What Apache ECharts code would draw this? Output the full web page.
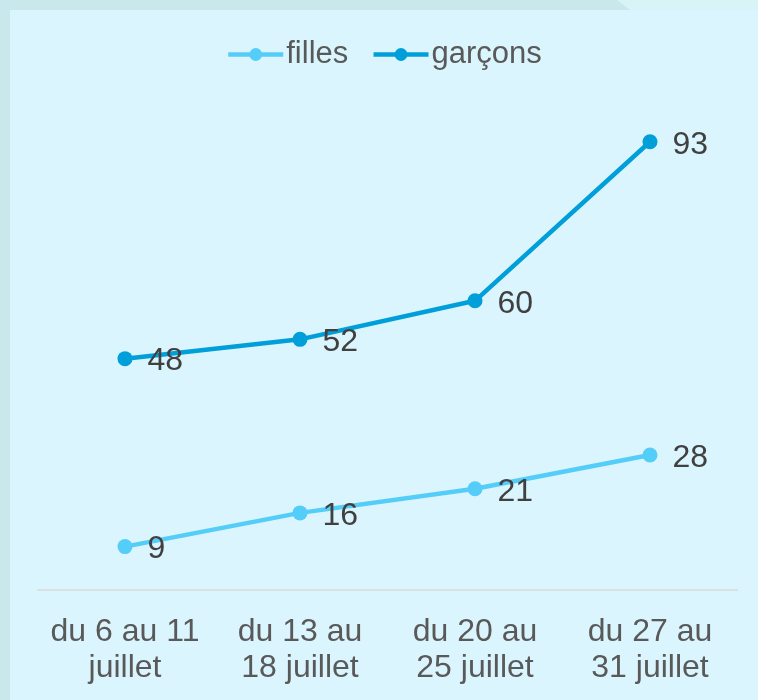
<!DOCTYPE html>
<html><head><meta charset="utf-8">
<script src="https://cdn.jsdelivr.net/npm/echarts@6/dist/echarts.min.js"></script>
<style>html,body{margin:0;padding:0;background:#c8e8ec}#c{width:758px;height:700px}</style>
</head><body><div id="c"></div>
<script>
const categories = ['du 6 au 11\njuillet', 'du 13 au\n18 juillet', 'du 20 au\n25 juillet', 'du 27 au\n31 juillet'];
const filles = [9, 16, 21, 28];
const garcons = [48, 52, 60, 93];
const seriesNames = ['filles', 'garçons'];

const FONT = '"Liberation Sans", Arial, sans-serif';
const chart = echarts.init(document.getElementById('c'), null, {renderer: 'canvas'});
const labelCfg = {show: true, position: 'right', distance: 15, offset: [0, 3], color: '#404040', fontSize: 32, fontFamily: FONT};
chart.setOption({
  backgroundColor: '#c8e8ec',
  animation: false,
  graphic: [
    {type: 'rect', shape: {x: 10, y: 10, width: 748, height: 690}, style: {fill: '#dbf5fe'}, z: -10, silent: true},
    {type: 'polygon', shape: {points: [[617, 0], [758, 0], [758, 10], [630, 10]]}, style: {fill: '#d9f4f6'}, z: -10, silent: true}
  ],
  legend: {
    data: seriesNames,
    left: 226, top: 39, padding: 0,
    itemWidth: 55, itemHeight: 16, itemGap: 23,
    lineStyle: {width: 4.5},
    textStyle: {color: '#595959', fontSize: 31, fontFamily: FONT, padding: [0, 0, 0, -2]}
  },
  grid: {left: 37.5, right: 20.5, top: 108, bottom: 110, containLabel: false},
  xAxis: {
    type: 'category', data: categories, boundaryGap: true,
    axisLine: {show: true, lineStyle: {color: '#d9d9d9', width: 1.5}},
    axisTick: {show: false},
    axisLabel: {color: '#595959', fontSize: 32, fontFamily: FONT, lineHeight: 36, margin: 24, interval: 0}
  },
  yAxis: {type: 'value', min: 0, max: 100, show: false, splitLine: {show: false}},
  series: [
    {name: 'filles', type: 'line', data: filles, symbol: 'circle', symbolSize: 15,
     itemStyle: {color: '#55cdf9'}, lineStyle: {color: '#55cdf9', width: 4.5}, label: labelCfg},
    {name: 'garçons', type: 'line', data: garcons, symbol: 'circle', symbolSize: 15,
     itemStyle: {color: '#009fda'}, lineStyle: {color: '#009fda', width: 4.5}, label: labelCfg}
  ]
});
</script></body></html>
